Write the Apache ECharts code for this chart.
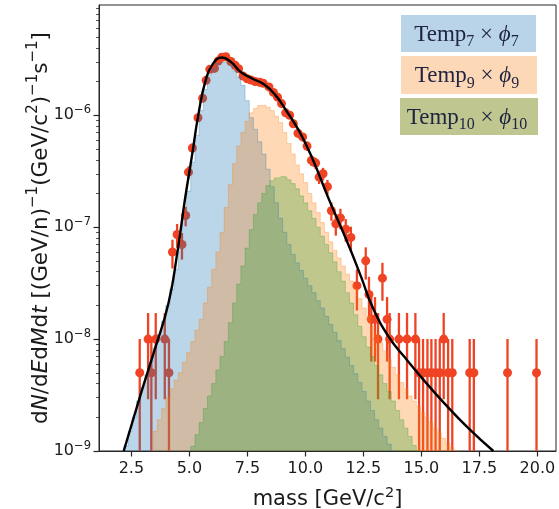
<!DOCTYPE html>
<html><head><meta charset="utf-8">
<script src="https://cdn.jsdelivr.net/npm/echarts@6/dist/echarts.min.js"></script>
<style>html,body{margin:0;padding:0;background:#fff}#c{width:559px;height:509px}</style>
</head><body><div id="c"></div>
<script>
// ---- tick labels ----
const xTicks = [2.5, 5, 7.5, 10, 12.5, 15, 17.5, 20];
const yDecades = [-9, -8, -7, -6];
const yMinorFactors = [2, 3, 4, 5, 6, 7, 8, 9];

// ---- histogram bins (mass) ----
const binStart = 2.0;
const binWidth = 0.18;

// Temp7 x phi7 (blue)
const blueFirstBin = 1;
const blueVals = [1.1e-9,1.5e-9,2.0e-9,2.8e-9,3.7e-9,4.8e-9,6.3e-9,8.3e-9,1.1e-8,1.45e-8,
  2.0e-8,2.8e-8,4.2e-8,7.0e-8,1.2e-7,2.1e-7,3.8e-7,6.6e-7,1.1e-6,1.7e-6,
  2.3e-6,2.6e-6,2.9e-6,3.0e-6,2.95e-6,2.8e-6,2.5e-6,2.2e-6,1.85e-6,1.35e-6,
  9.5e-7,7.5e-7,5.8e-7,4.5e-7,3.3e-7,2.3e-7,1.65e-7,1.2e-7,9e-8,7e-8,
  5.7e-8,4.8e-8,4.1e-8,3.5e-8,3.0e-8,2.6e-8,2.2e-8,1.9e-8,1.6e-8,1.35e-8,
  1.15e-8,9.7e-9,8.2e-9,6.9e-9,5.8e-9,4.9e-9,4.1e-9,3.4e-9,2.8e-9,2.3e-9,
  1.9e-9,1.6e-9,1.35e-9,1.15e-9,1.0e-9];

// Temp9 x phi9 (orange)
const orangeFirstBin = 8;
const orangeVals = [1.5e-9,1.9e-9,2.4e-9,3.0e-9,3.6e-9,4.3e-9,5.0e-9,6.2e-9,7.6e-9,9.5e-9,
  1.2e-8,1.5e-8,2.1e-8,2.9e-8,4.2e-8,6.0e-8,9.0e-8,1.5e-7,2.4e-7,3.7e-7,
  5.3e-7,7.0e-7,8.8e-7,1.05e-6,1.15e-6,1.22e-6,1.23e-6,1.18e-6,1.1e-6,9.8e-7,
  8.6e-7,7.0e-7,5.6e-7,4.5e-7,3.6e-7,3.0e-7,2.5e-7,2.0e-7,1.65e-7,1.35e-7,
  1.1e-7,9.0e-8,7.4e-8,6.2e-8,5.3e-8,4.5e-8,3.8e-8,3.3e-8,2.8e-8,2.3e-8,
  1.9e-8,1.6e-8,1.3e-8,1.1e-8,9.3e-9,7.8e-9,6.6e-9,5.6e-9,4.8e-9,4.1e-9,
  3.6e-9,3.1e-9,2.8e-9,2.5e-9,2.2e-9,2.0e-9,1.8e-9,1.6e-9,1.45e-9,1.3e-9,
  1.18e-9,1.08e-9,1.0e-9];

// Temp10 x phi10 (green)
const greenFirstBin = 17;
const greenVals = [1.1e-9,1.4e-9,1.8e-9,2.4e-9,3.1e-9,4.0e-9,5.3e-9,7.0e-9,9.5e-9,1.4e-8,
  2.1e-8,3.1e-8,4.5e-8,6.5e-8,9.5e-8,1.3e-7,1.65e-7,2.0e-7,2.35e-7,2.6e-7,
  2.75e-7,2.85e-7,2.8e-7,2.65e-7,2.45e-7,2.2e-7,1.9e-7,1.65e-7,1.4e-7,1.2e-7,
  1.0e-7,8.3e-8,7.0e-8,5.9e-8,4.9e-8,4.0e-8,3.3e-8,2.6e-8,2.1e-8,1.65e-8,
  1.3e-8,1.05e-8,8.5e-9,7.0e-9,5.8e-9,4.8e-9,4.0e-9,3.4e-9,2.8e-9,2.3e-9,
  1.9e-9,1.6e-9,1.35e-9,1.12e-9,1.0e-9];

// ---- measured data points ----
const dataX = [2.86,3.22,3.36,3.55,3.94,4.12,4.27,4.47,4.68,4.84,4.96,5.13,5.37,5.57,5.72,5.88,
  6.08,6.24,6.40,6.57,6.79,6.97,7.12,7.31,7.49,7.66,7.83,8.03,8.18,8.43,8.62,8.80,8.97,9.15,9.32,9.48,
  9.68,9.88,10.07,10.26,10.44,10.59,10.76,10.95,11.12,11.31,11.51,11.74,11.96,12.22,12.60,12.74,12.84,13.00,13.13,13.32,
  13.52,13.63,14.03,14.38,14.74,14.90,15.07,15.26,15.43,15.61,15.79,15.96,16.15,16.33,17.08,17.26,18.71,19.96];
const dataY = [5e-9,1e-8,5e-9,1e-8,1e-8,5e-9,6.0e-8,8.6e-8,7.0e-8,1.27e-7,3.1e-7,5.1e-7,9.5e-7,1.42e-6,2.05e-6,2.57e-6,
  2.62e-6,3.05e-6,3.3e-6,3.33e-6,3.02e-6,2.8e-6,2.6e-6,2.24e-6,2.12e-6,2.06e-6,2.0e-6,1.97e-6,1.93e-6,1.79e-6,1.6e-6,1.45e-6,1.27e-6,1.05e-6,1.0e-6,8.4e-7,
  6.9e-7,6.4e-7,5.3e-7,3.95e-7,3.74e-7,2.8e-7,3.0e-7,2.3e-7,1.4e-7,1.07e-7,1.21e-7,9.6e-8,8.1e-8,3.0e-8,5.0e-8,2.5e-8,1.5e-8,1.5e-8,1e-8,3.5e-8,
  1.5e-8,1e-8,1e-8,1e-8,1e-8,5e-9,5e-9,5e-9,5e-9,5e-9,5e-9,1e-8,5e-9,5e-9,5e-9,5e-9,5e-9,5e-9];
const dataErr = [5e-9,7.1e-9,5e-9,7.1e-9,7.1e-9,5e-9,1.73e-8,2.07e-8,1.87e-8,2.52e-8,3.94e-8,5.05e-8,6.9e-8,8.4e-8,1.01e-7,1.13e-7,
  1.14e-7,1.23e-7,1.28e-7,1.29e-7,1.23e-7,1.18e-7,1.14e-7,1.06e-7,1.03e-7,1.01e-7,1.0e-7,9.9e-8,9.8e-8,9.5e-8,8.9e-8,8.5e-8,8.0e-8,7.2e-8,7.1e-8,6.5e-8,
  5.9e-8,5.7e-8,5.1e-8,4.4e-8,4.3e-8,3.7e-8,3.9e-8,3.4e-8,2.6e-8,2.3e-8,2.5e-8,2.2e-8,2.0e-8,1.2e-8,1.6e-8,1.1e-8,8.7e-9,8.7e-9,7.1e-9,1.3e-8,
  8.7e-9,7.1e-9,7.1e-9,7.1e-9,7.1e-9,5e-9,5e-9,5e-9,5e-9,5e-9,5e-9,7.1e-9,5e-9,5e-9,5e-9,5e-9,5e-9,5e-9];

// ---- fit curve ----
const curveX = [2.17,2.9,3.5,4.1,4.5,4.8,5.1,5.4,5.7,6.0,6.4,6.8,7.2,7.7,8.2,8.7,9.2,9.75,10.3,11.0,11.8,12.4,12.9,13.6,14.3,15.1,16.0,17.0,18.1];
const curveY = [1.0e-9,3.2e-9,8.0e-9,2.1e-8,6.3e-8,1.72e-7,4.2e-7,1.05e-6,2.05e-6,2.85e-6,3.28e-6,2.98e-6,2.45e-6,2.13e-6,1.9e-6,1.52e-6,1.08e-6,7.1e-7,4.1e-7,1.8e-7,7.4e-8,3.6e-8,1.92e-8,1.04e-8,6.8e-9,4.3e-9,2.65e-9,1.62e-9,1.0e-9];

// ---- legend entries ----
const legendTexts = ['Temp{s|7} × {i|ϕ}{s|7}', 'Temp{s|9} × {i|ϕ}{s|9}', 'Temp{s|10} × {i|ϕ}{s|10}'];

// ---------------------------------------------------------------
const X_MIN = 1.1045, X_MAX = 20.8;
const Y_MIN = -9, Y_MAX = -5.015;
const FLOOR = -11;
const lg = v => (v > 0 ? Math.log10(v) : FLOOR);
const RED = '#ef4324';
const C_BLUE = 'rgba(31,119,180,0.3)';
const C_ORANGE = 'rgba(255,127,14,0.3)';
const C_GREEN = 'rgba(44,160,44,0.3)';
const AX = '#262626';
const FONT = 'DejaVu Sans';

function histSeries(first, vals, color) {
  const pts = [[binStart + first * binWidth, FLOOR]];
  vals.forEach((v, i) => pts.push([binStart + (first + i) * binWidth, lg(v)]));
  const endX = binStart + (first + vals.length) * binWidth;
  pts.push([endX, lg(vals[vals.length - 1])]);
  pts.push([endX, FLOOR]);
  return {
    type: 'line', step: 'end', data: pts, symbol: 'none', silent: true, clip: true,
    lineStyle: { color: color, width: 1 },
    areaStyle: { color: color, opacity: 1, origin: 'start' }
  };
}

const minorTicks = [];
yDecades.forEach(d => yMinorFactors.forEach(f => {
  const v = Math.log10(f) + d;
  if (v < Y_MAX) minorTicks.push(v);
}));

const errData = dataX.map((x, i) => [x, lg(dataY[i] - dataErr[i]), lg(dataY[i] + dataErr[i])]);
const ptData = dataX.map((x, i) => [x, lg(dataY[i])]);
const curveData = curveX.map((x, i) => [x, lg(curveY[i])]);

const chart = echarts.init(document.getElementById('c'), null, { renderer: 'canvas' });

const SERIF = 'Liberation Serif, DejaVu Serif, serif';
const legendColors = ['#b9d4e8', '#fdd8b6', '#c0c68f'];
const legendBoxes = [[401, 15, 135, 37], [401, 56, 136, 38], [400, 98, 138, 37]];
const graphics = [];
legendTexts.forEach((t, i) => {
  const b = legendBoxes[i];
  graphics.push({ type: 'rect', shape: { x: b[0], y: b[1], width: b[2], height: b[3] }, style: { fill: legendColors[i] }, z: 100 });
  graphics.push({
    type: 'text', x: b[0] + b[2] / 2 - 2, y: b[1] + b[3] / 2 + 1, z: 101,
    style: {
      text: t, align: 'center', verticalAlign: 'middle',
      fontFamily: SERIF, fontSize: 23, fill: '#1d2340', lineHeight: 31,
      rich: {
        s: { fontFamily: SERIF, fontSize: 16, lineHeight: 16, verticalAlign: 'bottom', fill: '#1d2340' },
        i: { fontFamily: SERIF, fontSize: 23, fontStyle: 'italic', lineHeight: 31, fill: '#1d2340' }
      }
    }
  });
});

const option = {
  animation: false,
  backgroundColor: '#ffffff',
  grid: { left: 99, right: 3, top: 5, bottom: 58, show: true, borderColor: AX, borderWidth: 1, backgroundColor: 'transparent', containLabel: false, outerBoundsMode: 'none' },
  xAxis: {
    type: 'value', min: X_MIN, max: X_MAX,
    name: 'mass [GeV/c{sup|2}]', nameLocation: 'middle', nameGap: 35,
    nameTextStyle: {
      fontFamily: FONT, fontSize: 21, color: '#1a1a1a', lineHeight: 27,
      rich: { sup: { fontFamily: FONT, fontSize: 14.5, lineHeight: 14, verticalAlign: 'top', color: '#1a1a1a' } }
    },
    axisLine: { show: true, lineStyle: { color: AX, width: 1 } },
    axisTick: { show: true, length: 5.5, inside: false, customValues: xTicks, lineStyle: { color: AX, width: 1.2 } },
    axisLabel: { show: true, customValues: xTicks, formatter: v => v.toFixed(1), fontFamily: FONT, fontSize: 16, color: '#1a1a1a', margin: 10 },
    splitLine: { show: false }
  },
  yAxis: [{
    type: 'value', min: Y_MIN, max: Y_MAX,
    name: 'd{i|N}/d{i|E}d{i|M}d{i|t} [(GeV/n){sup|−1}(GeV/c{sup|2}){sup|−1}s{sup|−1}]',
    nameLocation: 'middle', nameGap: 43, nameRotate: 90, nameMoveOverlap: false,
    nameTextStyle: {
      fontFamily: FONT, fontSize: 21.5, color: '#1a1a1a', lineHeight: 30,
      rich: {
        i: { fontFamily: FONT, fontSize: 21.5, fontStyle: 'italic', lineHeight: 30, color: '#1a1a1a' },
        sup: { fontFamily: FONT, fontSize: 15, lineHeight: 15, verticalAlign: 'top', color: '#1a1a1a' }
      }
    },
    axisLine: { show: true, lineStyle: { color: AX, width: 1 } },
    axisTick: { show: true, length: 5.5, inside: false, customValues: yDecades, lineStyle: { color: AX, width: 1.2 } },
    axisLabel: {
      show: true, customValues: yDecades, margin: 8,
      formatter: v => '10{sup|−' + Math.round(-v) + '}',
      fontFamily: FONT, fontSize: 16, color: '#1a1a1a', lineHeight: 22,
      rich: { sup: { fontFamily: FONT, fontSize: 11.5, lineHeight: 12, verticalAlign: 'top', color: '#1a1a1a' } }
    },
    splitLine: { show: false }
  }, {
    type: 'value', min: Y_MIN, max: Y_MAX, position: 'left',
    axisLine: { show: false }, axisLabel: { show: false }, splitLine: { show: false },
    axisTick: { show: true, length: 3, inside: false, customValues: minorTicks, lineStyle: { color: AX, width: 0.8 } }
  }],
  series: [
    {
      type: 'custom', clip: true, silent: true, data: errData, encode: { x: 0, y: [1, 2] },
      renderItem: (params, api) => {
        const x = api.value(0);
        const p1 = api.coord([x, api.value(1)]);
        const p2 = api.coord([x, api.value(2)]);
        return { type: 'line', shape: { x1: p1[0], y1: p1[1], x2: p2[0], y2: p2[1] }, style: { stroke: RED, lineWidth: 2.3 } };
      }
    },
    { type: 'scatter', data: ptData, symbol: 'circle', symbolSize: 9, itemStyle: { color: RED, opacity: 1 }, silent: true, clip: true },
    histSeries(blueFirstBin, blueVals, C_BLUE),
    histSeries(orangeFirstBin, orangeVals, C_ORANGE),
    histSeries(greenFirstBin, greenVals, C_GREEN),
    { type: 'line', data: curveData, symbol: 'none', smooth: 0.5, clip: true, silent: true, lineStyle: { color: '#000', width: 2.4 } }
  ],
  graphic: graphics
};
chart.setOption(option);
</script></body></html>
